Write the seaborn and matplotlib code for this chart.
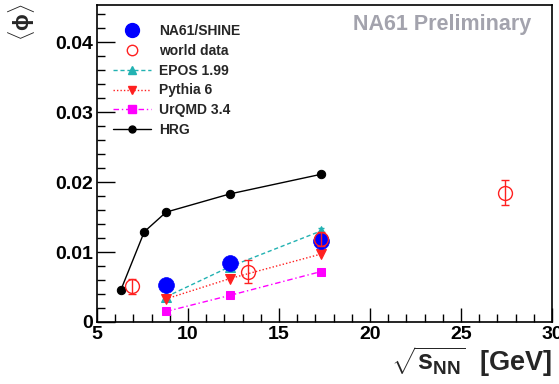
import matplotlib
matplotlib.use("Agg")
import matplotlib.pyplot as plt
from matplotlib.lines import Line2D
from matplotlib.ticker import MultipleLocator
import seaborn as sns

# NA61/SHINE measurements
na61_x = [8.8, 12.3, 17.3]
na61_y = [0.0053, 0.0084, 0.01155]
na61_err = [0.0004, 0.0004, 0.0005]

# world data
world_x = [6.9, 13.3, 17.3, 27.4]
world_y = [0.0051, 0.0072, 0.0118, 0.0185]
world_err = [0.0011, 0.0017, 0.0010, 0.0018]

# model predictions
epos_x = [8.8, 12.3, 17.3]
epos_y = [0.0036, 0.0079, 0.0130]
epos_err = [0.0003, 0.0003, 0.0005]

pythia_x = [8.8, 12.3, 17.3]
pythia_y = [0.0033, 0.0062, 0.0097]

urqmd_x = [8.8, 12.3, 17.3]
urqmd_y = [0.0015, 0.0038, 0.0072]

hrg_x = [6.3, 7.6, 8.8, 12.3, 17.3]
hrg_y = [0.0045, 0.0129, 0.0157, 0.0183, 0.0211]

x_ticks = [5, 10, 15, 20, 25, 30]
y_ticks = [0, 0.01, 0.02, 0.03, 0.04]
y_ticklabels = ["0", "0.01", "0.02", "0.03", "0.04"]

sns.set_theme(style="ticks")
plt.rcParams["font.family"] = ["Liberation Sans", "DejaVu Sans"]
plt.rcParams["font.weight"] = "bold"
plt.rcParams["mathtext.fontset"] = "custom"
plt.rcParams["mathtext.rm"] = "Liberation Sans:bold"
plt.rcParams["mathtext.it"] = "Liberation Sans:bold"
plt.rcParams["mathtext.bf"] = "Liberation Sans:bold"

fig = plt.figure(figsize=(5.59, 3.84), dpi=100)
ax = fig.add_axes([0.1735, 0.1615, 0.814, 0.8255])

blue = "#0000ff"
red = "#ff2020"
teal = "#22b2b2"
magenta = "#ff00ff"

# HRG curve
sns.lineplot(x=hrg_x, y=hrg_y, ax=ax, color="black", lw=1.0, marker="o",
             markersize=6, markeredgecolor="black", linestyle="-", zorder=3)
# models
sns.lineplot(x=epos_x, y=epos_y, ax=ax, color=teal, lw=1.0, marker="^",
             markersize=6.5, markeredgecolor=teal, linestyle=(0, (3, 2)), zorder=3)
ax.errorbar(epos_x, epos_y, yerr=epos_err, fmt="none", ecolor=teal, elinewidth=1,
            capsize=2.5, zorder=3)
sns.lineplot(x=pythia_x, y=pythia_y, ax=ax, color=red, lw=1.0, marker="v",
             markersize=6.5, markeredgecolor=red, linestyle=(0, (1, 1.5)), zorder=3)
sns.lineplot(x=urqmd_x, y=urqmd_y, ax=ax, color=magenta, lw=1.0, marker="s",
             markersize=6, markeredgecolor=magenta, linestyle=(0, (4, 2, 1, 2)), zorder=3)

# NA61/SHINE
ax.errorbar(na61_x, na61_y, yerr=na61_err, fmt="none", ecolor=blue, elinewidth=1,
            capsize=2.5, zorder=4)
sns.scatterplot(x=na61_x, y=na61_y, ax=ax, color=blue, s=130, edgecolor=blue,
                linewidth=0.5, zorder=5)

# world data
ax.errorbar(world_x, world_y, yerr=world_err, fmt="o", color=red, mfc="none",
            mec=red, ms=10, mew=1.0, elinewidth=1, capsize=3, zorder=6)

ax.set_xlim(5, 30)
ax.set_ylim(0, 0.0453)
ax.xaxis.set_minor_locator(MultipleLocator(1))
ax.yaxis.set_minor_locator(MultipleLocator(0.002))
ax.set_xticks(x_ticks)
ax.set_xticklabels([str(v) for v in x_ticks])
ax.set_yticks(y_ticks)
ax.set_yticklabels(y_ticklabels)
ax.tick_params(axis="both", which="both", direction="in", top=False, right=False,
               labelsize=14, colors="black", width=1)
ax.tick_params(axis="x", which="major", length=10, pad=3)
ax.tick_params(axis="y", which="major", length=13, pad=3)
ax.tick_params(axis="both", which="minor", length=6)
for lab in ax.get_xticklabels() + ax.get_yticklabels():
    lab.set_fontweight("bold")
for sp in ax.spines.values():
    sp.set_color("black")
    sp.set_linewidth(1.2)
    sp.set_visible(True)

ax.set_xlabel("")
ax.set_ylabel("")
fig.text(0.987, 0.035, r"$\sqrt{s_{NN}}$  [GeV]", ha="right", va="baseline",
         fontsize=19.5, fontweight="bold")
fig.text(0.038, 0.99, r"$\langle\phi\rangle$", rotation=90, ha="center", va="top",
         fontsize=16)

ax.text(0.955, 0.94, "NA61 Preliminary", transform=ax.transAxes, ha="right",
        va="center", fontsize=15.5, fontweight="bold", color="#a3a3ad")

handles = [
    Line2D([], [], ls="none", marker="o", ms=10, color=blue, mec=blue),
    Line2D([], [], ls="none", marker="o", ms=7.5, mfc="none", mec=red, color=red),
    Line2D([], [], ls=(0, (3, 2)), marker="^", ms=6, color=teal, lw=1),
    Line2D([], [], ls=(0, (1, 1.5)), marker="v", ms=6, color=red, lw=1),
    Line2D([], [], ls=(0, (4, 2, 1, 2)), marker="s", ms=6, color=magenta, lw=1),
    Line2D([], [], ls="-", marker="o", ms=5, color="black", lw=1),
]
labels = ["NA61/SHINE", "world data", "EPOS 1.99", "Pythia 6", "UrQMD 3.4", "HRG"]
ax.legend(handles, labels, loc="upper left", bbox_to_anchor=(0.022, 0.958),
          frameon=False, prop={"weight": "bold", "size": 10}, handlelength=2.8,
          handletextpad=0.55, labelspacing=0.42, borderaxespad=0)

fig.savefig("out.png", dpi=100)
